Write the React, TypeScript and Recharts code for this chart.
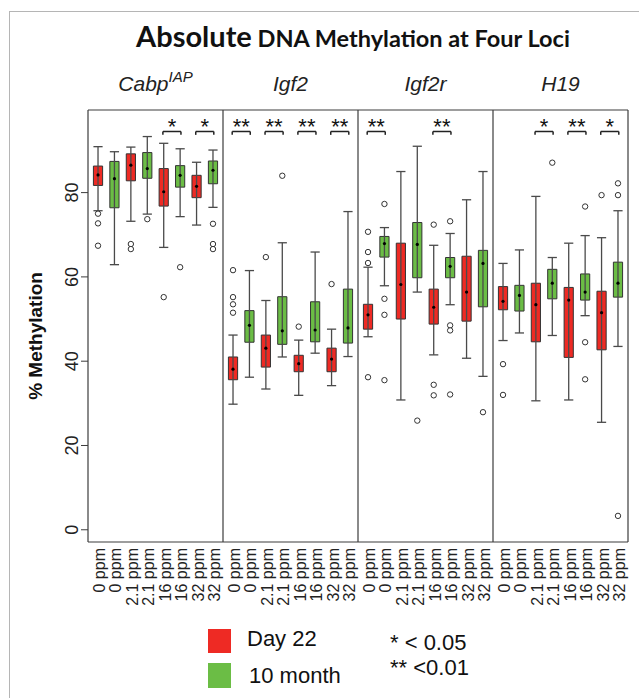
import { ComposedChart, ReferenceArea, ReferenceLine, Scatter, XAxis, YAxis } from "recharts";

// dose groups, alternating Day 22 / 10 month
const doses = ["0 ppm", "0 ppm", "2.1 ppm", "2.1 ppm", "16 ppm", "16 ppm", "32 ppm", "32 ppm"];
const loci = ["Cabp", "Igf2", "Igf2r", "H19"];

// [lower whisker, Q1, median, Q3, upper whisker]
const cabpStats = [
  [75.7, 81.7, 84.2, 86.3, 90.9],
  [62.9, 76.4, 83.3, 87.4, 89.7],
  [73.2, 82.8, 86.5, 89.2, 90.8],
  [74.9, 83.4, 85.7, 89.5, 93.3],
  [67.0, 76.8, 80.2, 85.7, 91.7],
  [74.3, 81.3, 84.1, 86.4, 90.4],
  [72.3, 78.8, 81.5, 84.1, 87.2],
  [76.5, 82.1, 85.3, 87.5, 90.1],
];
const igf2Stats = [
  [29.8, 35.6, 38.1, 41.0, 46.2],
  [36.2, 44.5, 48.5, 52.0, 61.5],
  [33.4, 38.6, 43.1, 46.2, 54.4],
  [41.0, 44.0, 47.2, 55.3, 68.1],
  [31.9, 37.5, 39.4, 41.4, 45.0],
  [41.9, 44.6, 47.4, 54.1, 65.9],
  [34.2, 37.5, 40.5, 43.1, 47.6],
  [41.1, 44.3, 47.9, 57.1, 75.5],
];
const igf2rStats = [
  [45.8, 47.6, 51.0, 53.5, 62.3],
  [57.9, 64.7, 67.9, 69.6, 71.7],
  [30.8, 50.0, 58.2, 68.0, 85.0],
  [56.4, 59.8, 67.7, 72.9, 91.0],
  [41.5, 48.8, 52.8, 57.1, 67.5],
  [53.4, 59.8, 62.5, 64.6, 70.3],
  [40.7, 49.5, 56.4, 64.9, 78.3],
  [36.4, 52.9, 63.2, 66.3, 85.0],
];
const h19Stats = [
  [44.9, 52.2, 54.2, 57.7, 63.2],
  [46.7, 51.9, 55.6, 58.0, 66.4],
  [30.6, 44.6, 53.4, 58.5, 79.1],
  [46.1, 54.8, 58.5, 61.8, 64.6],
  [30.8, 40.9, 54.5, 57.5, 68.0],
  [50.8, 54.5, 56.4, 60.7, 69.8],
  [25.5, 42.7, 51.5, 56.6, 69.3],
  [43.5, 55.2, 58.5, 63.5, 75.7],
];

const cabpOutliers = [[75.0, 72.7, 67.4], [], [67.8, 66.6], [73.7], [55.2], [62.3], [], [72.6, 67.8, 66.6]];
const igf2Outliers = [[61.6, 55.2, 53.5, 51.5], [], [64.7], [84.0], [48.2], [], [58.3], []];
const igf2rOutliers = [[70.7, 65.9, 63.3, 36.2], [77.3, 54.8, 51.0, 35.5], [], [25.9], [72.4, 34.4, 31.9], [73.2, 48.5, 47.3, 32.1], [], [27.9]];
const h19Outliers = [[39.3, 32.0], [], [], [87.1], [], [76.7, 44.5, 35.7], [79.4], [82.2, 79.4, 3.3]];

// significance per dose pair
const cabpSig = ["", "", "*", "*"];
const igf2Sig = ["**", "**", "**", "**"];
const igf2rSig = ["**", "", "**", ""];
const h19Sig = ["", "*", "**", "*"];

const yTicks = [0, 20, 40, 60, 80];

const RED = "#EE2A24";
const GREEN = "#6BBD45";
const FONT = "'Liberation Sans', Arial, sans-serif";
const PANEL = 8.22;
const FIRST = 0.61;
const HALF = 0.28;
const Y_MIN = -2.9;
const Y_MAX = 99.6;
const BRACKET = 94.5;

const posOf = (p: number, k: number) => p * PANEL + FIRST + k;

const allStats = [cabpStats, igf2Stats, igf2rStats, h19Stats];
const allOutliers = [cabpOutliers, igf2Outliers, igf2rOutliers, h19Outliers];
const allSig = [cabpSig, igf2Sig, igf2rSig, h19Sig];

const boxes = allStats.flatMap((stats, p) =>
  stats.map(([min, q1, median, q3, max], k) => ({
    pos: posOf(p, k),
    min, q1, median, q3, max,
    fill: k % 2 === 0 ? RED : GREEN,
  }))
);
const outliers = allOutliers.flatMap((list, p) =>
  list.flatMap((vals, k) => vals.map((v) => ({ pos: posOf(p, k), v })))
);
const brackets = allSig.flatMap((pairs, p) =>
  pairs
    .map((s, j) => ({ x1: posOf(p, 2 * j) - 0.05, x2: posOf(p, 2 * j + 1) + 0.05, label: s }))
    .filter((b) => b.label)
);
const stars = brackets.map((b) => ({ pos: (b.x1 + b.x2) / 2, v: BRACKET, label: b.label }));

const xTicks = boxes.map((b) => b.pos);
const panelCenters = loci.map((_, p) => p * PANEL + PANEL / 2);
const dividers = [0, 1, 2, 3, 4].map((p) => p * PANEL);

const frame = { stroke: "#3c3c3c", strokeWidth: 1.2 };
const whisker = { stroke: "#4a4a4a", strokeWidth: 1.3 };

const panelLabel = (i: number) => (props: any) => {
  const vb = props.viewBox || {};
  return (
    <text x={vb.x} y={vb.y - 19} textAnchor="middle" fontSize={21} fontStyle="italic" fontFamily={FONT} fill="#222">
      {loci[i]}
      {i === 0 ? (
        <tspan fontSize={15} dy={-9}>IAP</tspan>
      ) : null}
    </text>
  );
};

const App = () => {
  return (
    <div style={{ position: "absolute", left: 0, top: 0, width: 639, height: 698, background: "#fff" }}>
      <div style={{ position: "absolute", left: 9, top: 11, width: 700, height: 700, border: "1px solid #b5b5b5" }} />
      <ComposedChart
        width={639}
        height={620}
        data={boxes}
        margin={{ top: 110, right: 0, left: 0, bottom: 0 }}
        style={{ position: "absolute", left: 0, top: 0 }}
      >
        <XAxis
          dataKey="pos"
          type="number"
          domain={[0, 4 * PANEL]}
          allowDataOverflow
          ticks={xTicks}
          interval={0}
          height={78}
          axisLine={false}
          tickLine={false}
          tickSize={0}
          tickMargin={0}
          tick={(props: any) => (
            <text
              transform={`translate(${props.x + 7}, ${props.y + 6}) rotate(-90)`}
              textAnchor="end"
              fontSize={16}
              fontFamily={FONT}
              fill="#222"
            >
              {doses[props.index % 8]}
            </text>
          )}
        />
        <YAxis
          type="number"
          domain={[Y_MIN, Y_MAX]}
          allowDataOverflow
          ticks={yTicks}
          interval={0}
          width={88}
          axisLine={false}
          tickSize={7}
          tickMargin={2}
          tickLine={{ stroke: "#3c3c3c" }}
          tick={(props: any) => (
            <text
              transform={`translate(${props.x - 1}, ${props.y}) rotate(-90)`}
              textAnchor="middle"
              fontSize={18}
              fontFamily={FONT}
              fill="#222"
            >
              {props.payload.value}
            </text>
          )}
        />
        <YAxis
          yAxisId="r"
          orientation="right"
          type="number"
          domain={[Y_MIN, Y_MAX]}
          allowDataOverflow
          ticks={yTicks}
          interval={0}
          width={11}
          axisLine={false}
          tickSize={8}
          tickLine={{ stroke: "#3c3c3c" }}
          tick={false}
        />

        {dividers.map((x) => (
          <ReferenceLine key={`d${x}`} x={x} {...frame} />
        ))}
        <ReferenceLine y={Y_MAX} {...frame} />
        <ReferenceLine y={Y_MIN} {...frame} />
        {panelCenters.map((x, i) => (
          <ReferenceLine key={`t${i}`} x={x} stroke="none" label={panelLabel(i)} />
        ))}

        {boxes.map((b, i) => (
          <ReferenceLine key={`w${i}`} segment={[{ x: b.pos, y: b.min }, { x: b.pos, y: b.max }]} {...whisker} />
        ))}
        {boxes.map((b, i) => (
          <ReferenceLine key={`cl${i}`} segment={[{ x: b.pos - HALF, y: b.min }, { x: b.pos + HALF, y: b.min }]} {...whisker} />
        ))}
        {boxes.map((b, i) => (
          <ReferenceLine key={`ch${i}`} segment={[{ x: b.pos - HALF, y: b.max }, { x: b.pos + HALF, y: b.max }]} {...whisker} />
        ))}
        {boxes.map((b, i) => (
          <ReferenceArea
            key={`b${i}`}
            x1={b.pos - HALF}
            x2={b.pos + HALF}
            y1={b.q1}
            y2={b.q3}
            fill={b.fill}
            fillOpacity={1}
            stroke="#333"
            strokeWidth={1}
          />
        ))}

        {brackets.map((b, i) => (
          <ReferenceLine key={`bh${i}`} segment={[{ x: b.x1, y: BRACKET }, { x: b.x2, y: BRACKET }]} stroke="#222" strokeWidth={1.5} />
        ))}
        {brackets.map((b, i) => (
          <ReferenceLine key={`bl${i}`} segment={[{ x: b.x1, y: BRACKET }, { x: b.x1, y: BRACKET - 0.8 }]} stroke="#222" strokeWidth={1.5} />
        ))}
        {brackets.map((b, i) => (
          <ReferenceLine key={`br${i}`} segment={[{ x: b.x2, y: BRACKET }, { x: b.x2, y: BRACKET - 0.8 }]} stroke="#222" strokeWidth={1.5} />
        ))}

        <Scatter
          dataKey="median"
          isAnimationActive={false}
          shape={(props: any) => <circle cx={props.cx} cy={props.cy} r={1.6} fill="#000" />}
        />
        <Scatter
          data={outliers}
          dataKey="v"
          isAnimationActive={false}
          shape={(props: any) => <circle cx={props.cx} cy={props.cy} r={2.7} fill="#fff" stroke="#333" strokeWidth={1} />}
        />
        <Scatter
          data={stars}
          dataKey="v"
          isAnimationActive={false}
          shape={(props: any) => (
            <text x={props.cx} y={props.cy + 3} textAnchor="middle" fontSize={22} fontFamily={FONT} fill="#111">
              {props.payload.label}
            </text>
          )}
        />
      </ComposedChart>

      <svg width={639} height={698} style={{ position: "absolute", left: 0, top: 0, pointerEvents: "none" }}>
        <text x={353} y={47} textAnchor="middle" fontFamily="Lato, 'Open Sans', sans-serif" fontWeight={700} fill="#111">
          <tspan fontSize={29}>Absolute</tspan>
          <tspan fontSize={23.5}> DNA Methylation at Four Loci</tspan>
        </text>
        <text
          transform="translate(42, 336) rotate(-90)"
          textAnchor="middle"
          fontSize={19}
          fontWeight={700}
          fontFamily={FONT}
          fill="#111"
        >
          % Methylation
        </text>
        <rect x={208} y={629} width={23} height={24} fill={RED} />
        <rect x={208} y={663} width={23} height={25} fill={GREEN} />
        <text x={247} y={646} fontSize={22} fontFamily={FONT} fill="#111">Day 22</text>
        <text x={249} y={683} fontSize={22} fontFamily={FONT} fill="#111">10 month</text>
        <text x={390} y={650} fontSize={22} fontFamily={FONT} fill="#111">* &lt; 0.05</text>
        <text x={390} y={675} fontSize={22} fontFamily={FONT} fill="#111">** &lt;0.01</text>
      </svg>
    </div>
  );
};

export default App;
